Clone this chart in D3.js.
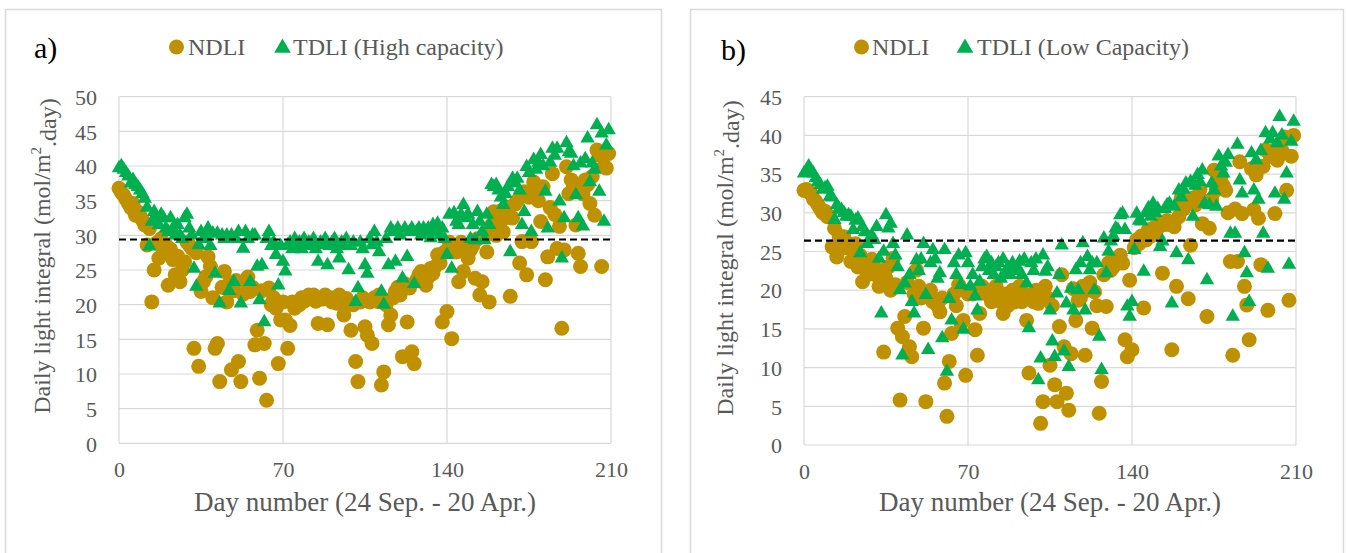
<!DOCTYPE html>
<html><head><meta charset="utf-8">
<script src="https://cdn.jsdelivr.net/npm/d3@7"></script>
<style>
body{margin:0;background:#fff}
svg{display:block}
text{font-family:"Liberation Serif","Times New Roman",serif}
</style>
</head><body>
<svg id="chart" width="1346" height="553"></svg>
<script>
// ---- data (day numbers 0..209) ----
const days = d3.range(0, 210);
const xTicks = [0, 70, 140, 210];
const yTicksA = [0, 5, 10, 15, 20, 25, 30, 35, 40, 45, 50];
const yTicksB = [0, 5, 10, 15, 20, 25, 30, 35, 40, 45];
const thresholdA = 29.4;
const thresholdB = 26.4;

const ndliA = [
36.8,36.2,35.8,35.2,34.6,34.0,34.6,32.9,33.4,32.8,32.2,
31.5,28.6,31.0,20.4,25.0,28.9,26.7,29.5,27.5,28.6,
22.8,28.0,26.5,24.3,27.0,23.3,25.0,26.2,29.0,28.6,
28.1,13.7,27.5,11.1,21.9,23.3,24.0,26.9,25.5,21.0,
13.7,14.4,8.9,22.5,24.8,20.4,23.0,10.6,22.0,23.5,
11.8,8.9,21.5,23.3,24.0,21.9,22.5,14.2,16.3,9.4,
22.0,14.4,6.2,22.4,20.0,21.0,19.5,11.5,17.8,20.4,
17.8,13.7,17.0,20.4,19.5,20.4,20.0,21.0,20.5,21.0,
21.4,21.0,21.4,20.5,17.3,21.0,20.8,21.4,17.1,21.0,
20.4,21.0,20.2,21.4,20.6,18.5,20.9,20.4,16.3,20.0,
11.8,8.9,20.4,21.0,16.8,15.6,20.4,14.4,21.0,20.5,
21.4,8.4,10.3,20.0,17.1,18.5,21.0,21.9,22.5,21.4,
12.5,23.0,17.5,22.4,13.2,11.5,23.5,24.3,24.8,23.8,
22.8,24.0,25.2,24.5,25.5,27.2,26.0,17.5,27.6,19.0,
29.0,15.1,28.0,27.6,23.3,29.0,24.8,28.1,26.7,27.9,
28.5,23.8,29.5,21.4,23.3,29.8,27.6,20.4,31.5,33.4,
30.0,32.0,33.5,30.5,32.5,34.0,21.2,32.5,34.5,35.0,
26.0,29.1,36.3,24.3,35.5,29.1,37.7,36.0,35.0,32.0,
37.0,23.6,26.9,34.0,38.9,33.0,28.1,31.3,16.6,27.9,
39.9,36.0,38.0,37.0,31.5,27.4,25.5,36.0,38.0,37.3,
34.6,38.5,32.9,42.3,41.6,25.5,40.0,39.7,41.8];

const tdliA = [
39.7,40.0,39.5,39.0,38.5,37.5,38.0,37.3,37.0,36.5,36.0,
35.3,34.0,28.4,32.0,33.4,32.5,31.5,33.0,32.5,31.0,
30.5,32.5,31.0,30.0,31.5,30.0,29.5,32.5,33.0,31.0,
30.0,25.2,22.6,28.6,30.5,29.5,30.0,31.0,28.5,30.3,
24.5,30.3,20.2,30.0,29.5,30.0,22.0,30.0,23.3,29.5,
30.5,20.2,28.1,30.5,29.5,23.3,30.0,30.0,25.5,20.7,
25.7,17.5,29.5,30.5,28.5,29.0,27.2,22.8,28.5,26.2,
24.8,28.6,29.0,28.0,29.5,28.5,29.0,28.0,29.5,28.6,
29.0,28.5,29.5,28.0,26.2,29.0,28.6,29.5,25.7,28.5,
29.0,29.5,28.0,26.7,29.0,28.5,29.5,25.0,28.5,29.0,
20.4,22.4,29.0,28.0,25.7,24.5,29.5,28.6,30.5,29.0,
27.6,21.9,20.0,29.5,25.7,31.0,30.5,26.2,31.0,30.0,
23.8,31.0,26.9,30.5,31.0,23.0,30.5,31.0,30.0,31.0,
30.5,31.0,29.6,31.5,30.5,31.7,30.0,31.0,29.5,27.2,
33.0,25.2,33.2,32.0,31.5,33.0,34.4,32.5,33.0,29.5,
31.5,29.3,33.4,32.0,30.5,29.3,33.0,31.5,37.3,37.0,
37.3,36.5,35.5,34.4,36.0,37.0,27.6,38.2,37.5,38.2,
36.5,31.5,33.4,39.9,39.0,30.5,40.9,39.5,40.5,41.6,
40.0,36.3,31.0,40.5,42.5,41.5,42.5,34.9,26.7,32.5,
43.3,42.0,41.8,40.0,35.8,32.5,40.4,31.3,41.0,44.0,
37.7,40.4,39.5,45.9,36.3,44.7,32.0,43.0,45.2];

const ndliB = [
32.9,33.0,32.7,32.5,31.8,31.5,31.0,30.5,30.0,30.2,29.5,
29.5,25.6,28.0,24.3,27.0,26.5,26.9,25.5,26.0,23.7,
25.0,26.0,23.0,24.5,21.1,23.5,22.0,22.2,24.0,23.0,
21.9,20.5,22.5,12.0,21.5,23.0,20.0,24.1,20.7,15.1,
5.8,14.0,16.6,21.0,12.7,11.4,19.5,22.6,20.5,19.0,
15.1,5.6,19.5,20.0,18.5,18.7,18.0,17.2,19.0,8.0,
3.7,10.8,14.4,19.5,18.0,20.7,15.7,16.1,9.0,19.5,
20.0,19.5,14.9,11.6,17.0,20.5,19.6,19.6,20.0,18.5,
18.7,20.5,19.0,18.5,17.0,19.5,18.0,19.2,20.0,18.5,
19.0,20.5,18.5,19.5,16.1,9.3,19.0,18.5,20.0,18.3,
2.8,5.6,20.5,19.0,10.3,18.0,7.8,5.6,15.3,22.0,
12.7,6.7,4.5,11.8,20.2,16.1,18.7,19.0,20.5,11.6,
20.0,21.0,15.1,19.8,18.0,4.1,8.2,22.0,17.9,23.5,
22.6,23.0,24.0,24.1,24.5,23.5,13.6,11.4,21.3,12.3,
25.5,26.5,26.0,27.0,17.7,26.5,27.8,27.0,28.0,27.5,
28.0,28.6,22.2,28.5,29.0,28.5,12.3,28.2,20.5,29.5,
31.9,30.5,31.0,18.9,25.8,31.9,31.0,32.0,33.0,28.6,
31.5,16.6,28.0,31.7,35.5,33.0,34.0,34.7,33.5,32.9,
30.0,23.7,11.6,30.5,23.7,36.6,29.9,20.5,18.1,13.6,
35.7,30.4,34.9,29.3,23.3,36.0,38.1,17.4,37.3,38.0,
29.9,36.8,37.5,38.0,39.8,32.9,18.7,37.3,40.0];

const tdliB = [
35.1,35.5,36.0,35.5,35.1,34.5,34.0,33.6,33.0,33.2,33.4,
32.1,32.0,29.1,31.0,30.5,30.4,30.0,29.5,29.7,29.5,
27.8,29.0,29.3,24.8,28.2,27.5,26.0,26.7,27.0,26.5,
28.2,24.1,17.0,25.0,29.7,28.0,28.6,26.0,24.5,23.0,
20.0,11.6,20.9,27.1,22.0,18.5,17.0,23.9,22.5,24.0,
26.0,19.4,12.3,23.5,25.2,24.0,21.5,22.2,13.8,25.2,
9.5,18.9,16.1,23.5,22.0,24.5,20.7,14.9,24.8,23.5,
20.5,22.0,19.2,17.4,21.1,23.0,24.0,24.3,22.5,23.5,
22.0,23.0,23.5,21.5,24.0,22.2,23.0,22.0,23.5,22.5,
23.0,23.7,22.0,24.0,20.9,15.1,23.5,22.5,24.0,8.4,
11.2,24.5,22.4,23.0,17.4,13.4,11.4,19.6,22.0,25.8,
12.1,18.3,10.1,20.2,17.4,22.6,20.0,23.5,26.1,17.4,
24.3,22.6,23.5,20.0,23.5,14.0,9.7,26.7,22.2,25.0,
26.3,27.0,28.0,27.8,29.7,29.9,27.8,17.9,16.6,18.5,
25.2,29.9,29.0,28.9,22.4,30.0,30.6,29.5,31.2,30.0,
30.5,25.6,26.3,30.5,31.0,31.2,18.3,30.8,24.8,32.9,
32.0,33.0,33.8,23.9,34.0,29.5,33.5,34.9,34.0,35.5,
31.2,21.3,31.0,33.8,32.9,30.8,37.3,36.0,35.1,36.5,
37.5,27.3,16.6,27.3,38.8,34.2,32.5,24.8,22.2,18.5,
37.7,32.9,36.8,31.7,38.0,27.3,40.3,22.8,39.5,40.3,
32.5,39.0,42.4,40.0,31.7,35.1,23.3,39.2,41.8];

const FONT = '"Liberation Serif","Times New Roman",serif';
const panels = [
  {label:"a)", ndli:ndliA, tdli:tdliA, thr:thresholdA, yTicks:yTicksA, yMax:50,
   tdliName:"TDLI (High capacity)",
   box:[5,9,656,560], plot:{l:119,r:611,t:96.7,b:443.3},
   lab:{x:34,y:47}, leg:{c:176.5, t1:188, tri:282.5, t2:293, y:47}, yTitle:{x:42,y:256}},
  {label:"b)", ndli:ndliB, tdli:tdliB, thr:thresholdB, yTicks:yTicksB, yMax:45,
   tdliName:"TDLI (Low Capacity)",
   box:[690,9,653,560], plot:{l:804,r:1296,t:96.7,b:445},
   lab:{x:721,y:49}, leg:{c:861.5, t1:872, tri:965, t2:977, y:47}, yTitle:{x:725,y:258}}
];

const GOLD = "#BF9000", GREEN = "#00B050", GRID = "#D9D9D9", TXT = "#595959";
const svg = d3.select("#chart");
const tri = d3.symbol().type(d3.symbolTriangle).size(90);
const triLeg = d3.symbol().type(d3.symbolTriangle).size(120);

panels.forEach(p => {
  const g = svg.append("g");
  g.append("rect").attr("x", p.box[0]+0.5).attr("y", p.box[1]+0.5)
    .attr("width", p.box[2]).attr("height", p.box[3])
    .attr("fill", "#fff").attr("stroke", GRID).attr("stroke-width", 1.5);

  const x = d3.scaleLinear().domain([0, 210]).range([p.plot.l, p.plot.r]);
  const y = d3.scaleLinear().domain([0, p.yMax]).range([p.plot.b, p.plot.t]);

  // gridlines
  g.append("g").selectAll("line").data(p.yTicks).join("line")
    .attr("x1", p.plot.l).attr("x2", p.plot.r)
    .attr("y1", d => y(d)).attr("y2", d => y(d))
    .attr("stroke", GRID).attr("stroke-width", 1.2);
  g.append("g").selectAll("line").data(xTicks).join("line")
    .attr("y1", p.plot.t).attr("y2", p.plot.b)
    .attr("x1", d => x(d)).attr("x2", d => x(d))
    .attr("stroke", GRID).attr("stroke-width", 1.2);

  // axes (labels only)
  const yAxis = g.append("g").attr("transform", `translate(${p.plot.l},0)`)
    .call(d3.axisLeft(y).tickValues(p.yTicks).tickSize(0).tickPadding(22));
  const xAxis = g.append("g").attr("transform", `translate(0,${p.plot.b})`)
    .call(d3.axisBottom(x).tickValues(xTicks).tickSize(0).tickPadding(18));
  [yAxis, xAxis].forEach(a => {
    a.attr("font-family", FONT).attr("font-size", 22);
    a.select(".domain").remove();
    a.selectAll("text").attr("fill", TXT).style("font-size", "22px").style("font-family", FONT);
  });
  yAxis.selectAll("text").attr("dy", "0.35em");

  // points
  g.append("g").selectAll("circle").data(days).join("circle")
    .attr("cx", d => x(d)).attr("cy", (d, i) => y(p.ndli[i]))
    .attr("r", 7.5).attr("fill", GOLD);
  g.append("g").selectAll("path").data(days).join("path")
    .attr("d", tri)
    .attr("transform", (d, i) => `translate(${x(d)},${y(p.tdli[i])})`)
    .attr("fill", GREEN);

  // threshold dashed line
  g.append("line").attr("x1", x(0)).attr("x2", x(210))
    .attr("y1", y(p.thr)).attr("y2", y(p.thr))
    .attr("stroke", "#000").attr("stroke-width", 2.2).attr("stroke-dasharray", "7,4");

  // axis titles
  g.append("text").attr("x", (p.plot.l + p.plot.r) / 2).attr("y", 511)
    .attr("text-anchor", "middle").attr("fill", TXT).style("font-size", "27px")
    .text("Day number (24 Sep. - 20 Apr.)");
  const yt = g.append("text")
    .attr("transform", `translate(${p.yTitle.x},${p.yTitle.y}) rotate(-90)`)
    .attr("text-anchor", "middle").attr("dy", "0.35em").attr("fill", TXT).style("font-size", "24px");
  yt.append("tspan").text("Daily light integral (mol/m");
  yt.append("tspan").attr("dy", "-0.6em").style("font-size", "15px").text("2");
  yt.append("tspan").attr("dy", "0.6em").text(".day)");

  // panel label
  g.append("text").attr("x", p.lab.x).attr("y", p.lab.y).attr("dy", "0.35em")
    .attr("fill", "#000").style("font-size", "30px").text(p.label);

  // legend
  g.append("circle").attr("cx", p.leg.c).attr("cy", p.leg.y).attr("r", 7.5).attr("fill", GOLD);
  g.append("text").attr("x", p.leg.t1).attr("y", p.leg.y).attr("dy", "0.35em")
    .attr("fill", TXT).style("font-size", "24px").text("NDLI");
  g.append("path").attr("d", triLeg).attr("transform", `translate(${p.leg.tri},${p.leg.y + 1})`)
    .attr("fill", GREEN);
  g.append("text").attr("x", p.leg.t2).attr("y", p.leg.y).attr("dy", "0.35em")
    .attr("fill", TXT).style("font-size", "24px").text(p.tdliName);
});
</script>
</body></html>
